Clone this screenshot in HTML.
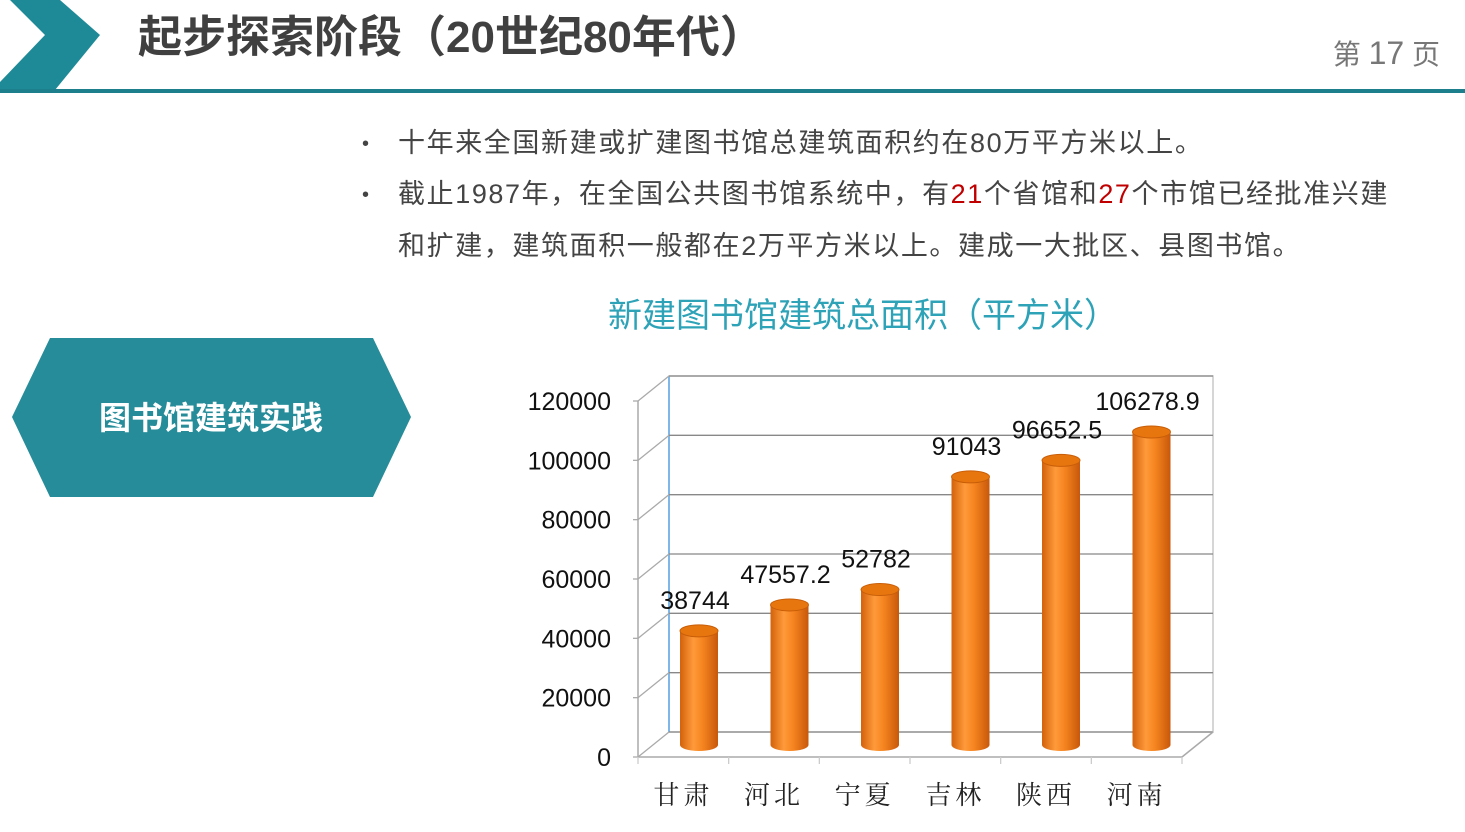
<!DOCTYPE html>
<html><head><meta charset="utf-8">
<style>
html,body{margin:0;padding:0;background:#fff;}
body{width:1465px;height:827px;overflow:hidden;position:relative;font-family:"Liberation Sans","Noto Sans CJK SC",sans-serif;}
</style></head>
<body>
<svg id="s" width="1465" height="827" viewBox="0 0 1465 827" xmlns="http://www.w3.org/2000/svg">
  <defs>
    <linearGradient id="cyl" x1="0" x2="1" y1="0" y2="0">
      <stop offset="0" stop-color="#d2620c"/>
      <stop offset="0.35" stop-color="#ff9a3a"/>
      <stop offset="0.6" stop-color="#f5841f"/>
      <stop offset="1" stop-color="#c8580a"/>
    </linearGradient>
  </defs>
  <polygon points="10,0 60,0 100,35 55,90 0,90 0,82 45,35" fill="#1f8a97"/>
  <text x="138" y="52" font-size="44" font-weight="bold" fill="#404040" font-family="Liberation Sans,'Noto Sans CJK SC',sans-serif">起步探索阶段（20世纪80年代）</text>
  <text x="1440" y="64" text-anchor="end" font-size="28" fill="#777" font-family="Liberation Sans,'Noto Sans CJK SC',sans-serif">第 <tspan font-size="32">17</tspan> 页</text>
  <rect x="0" y="89" width="1465" height="4" fill="#1d7f8b"/>

  <g font-size="27" letter-spacing="1.6" fill="#444" font-family="Liberation Sans,'Noto Sans CJK SC',sans-serif">
    <text x="362" y="150" font-size="20">•</text>
    <text x="398" y="152">十年来全国新建或扩建图书馆总建筑面积约在80万平方米以上。</text>
    <text x="362" y="201" font-size="20">•</text>
    <text x="398" y="203">截止1987年，在全国公共图书馆系统中，有<tspan fill="#c00000">21</tspan>个省馆和<tspan fill="#c00000">27</tspan>个市馆已经批准兴建</text>
    <text x="398" y="255">和扩建，建筑面积一般都在2万平方米以上。建成一大批区、县图书馆。</text>
  </g>

  <polygon points="12,417 50,338 373,338 411,417 373,497 50,497" fill="#268c99"/>
  <text x="211" y="429" text-anchor="middle" font-size="32" font-weight="bold" fill="#fff" font-family="Liberation Sans,'Noto Sans CJK SC',sans-serif">图书馆建筑实践</text>

  <text x="863" y="327" text-anchor="middle" font-size="34" fill="#2ea3b8" font-family="Liberation Sans,'Noto Sans CJK SC',sans-serif">新建图书馆建筑总面积（平方米）</text>

  <g id="chart"></g>
</svg>
<script>
const categories = ["甘肃","河北","宁夏","吉林","陕西","河南"];
const values = [38744, 47557.2, 52782, 91043, 96652.5, 106278.9];
const valueLabels = ["38744","47557.2","52782","91043","96652.5","106278.9"];
const yTicks = [0,20000,40000,60000,80000,100000,120000];

const NS = "http://www.w3.org/2000/svg";
const g = document.getElementById("chart");
const frontX0 = 638, frontX1 = 1182, frontBase = 757;
const dx = 31, dy = 25;
const maxV = 120000, plotH = 356;
const barBase = 745;
function yFront(v){ return frontBase - v/maxV*plotH; }
function yBack(v){ return yFront(v) - dy; }
function yBar(v){ return barBase - v*0.002945; }
function xCat(i){ return 699 + i*90.5; }
function mk(tag, attrs){ const e=document.createElementNS(NS,tag); for(const k in attrs) e.setAttribute(k,attrs[k]); g.appendChild(e); return e; }

mk("rect",{x:frontX0+dx,y:yBack(maxV),width:frontX1-frontX0,height:plotH,fill:"none",stroke:"#c8c8c8","stroke-width":1.5});
mk("line",{x1:frontX0+dx,y1:yBack(maxV),x2:frontX0+dx,y2:yBack(0),stroke:"#7fb8e8","stroke-width":2});
yTicks.forEach(function(t){
  const l = mk("line",{x1:frontX0+dx,y1:yBack(t),x2:frontX1+dx,y2:yBack(t),stroke:"#888","stroke-width":1.3});
  
  
  mk("line",{x1:frontX0,y1:yFront(t),x2:frontX0+dx,y2:yBack(t),stroke:"#aaa","stroke-width":1.3});
  mk("line",{x1:frontX0-5,y1:yFront(t),x2:frontX0,y2:yFront(t),stroke:"#aaa","stroke-width":1.3});
  const tx = mk("text",{x:611,y:yFront(t)+9,"text-anchor":"end","font-size":25,fill:"#111","font-family":"Liberation Sans, sans-serif"});
  tx.textContent = String(t);
  
  
});
mk("line",{x1:frontX0,y1:yFront(maxV),x2:frontX0,y2:frontBase,stroke:"#aaa","stroke-width":1.5});
mk("line",{x1:frontX0,y1:frontBase,x2:frontX1,y2:frontBase,stroke:"#aaa","stroke-width":1.5});
mk("line",{x1:frontX1,y1:frontBase,x2:frontX1+dx,y2:yBack(0),stroke:"#aaa","stroke-width":1.5});
for(let i=0;i<=categories.length;i++){
  const x = frontX0 + i*(frontX1-frontX0)/categories.length;
  mk("line",{x1:x,y1:frontBase,x2:x,y2:frontBase+7,stroke:"#ccc","stroke-width":1.3});
}

values.forEach(function(v,i){
  const cx = xCat(i), rx = 19, ry = 6;
  const top = yBar(v), bot = barBase;
  const b = mk("path",{d:"M"+(cx-rx)+","+top+" L"+(cx-rx)+","+bot+" A"+rx+","+ry+" 0 0 0 "+(cx+rx)+","+bot+" L"+(cx+rx)+","+top+" Z",fill:"url(#cyl)"});
  
  
  mk("ellipse",{cx:cx,cy:top,rx:rx,ry:ry,fill:"#e8760f",stroke:"#c85e08","stroke-width":1});
  const lb = mk("text",{x:cx-4,y:top-22,"text-anchor":"middle","font-size":25,fill:"#111","font-family":"Liberation Sans, sans-serif"});
  lb.textContent = valueLabels[i];
  
  
  const cl = mk("text",{x:frontX0 + (i+0.5)*(frontX1-frontX0)/categories.length,y:804,"text-anchor":"middle","font-size":26,fill:"#222","letter-spacing":"4","font-family":"'Noto Serif CJK SC', serif"});
  cl.textContent = categories[i];
  
  
});
</script>
</body></html>
